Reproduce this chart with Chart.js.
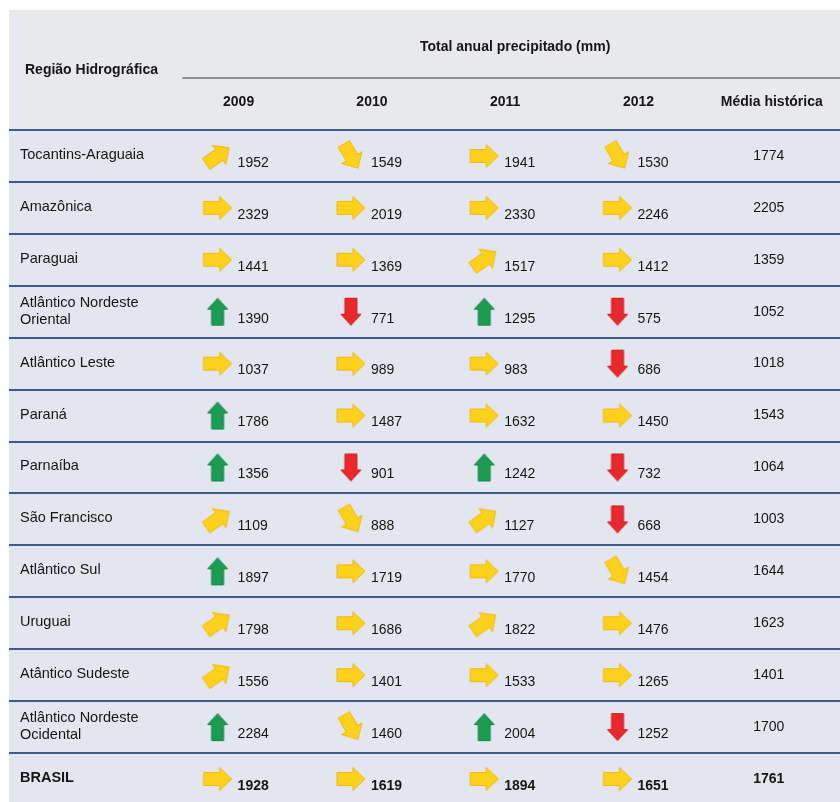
<!DOCTYPE html>
<html>
<head>
<meta charset="utf-8">
<style>
  html, body { margin: 0; padding: 0; background: #fff; overflow: hidden; }
  #chart { display: block; }
</style>
<script src="https://cdn.jsdelivr.net/npm/chart.js@4.4.1/dist/chart.umd.min.js"></script>
</head>
<body>
<canvas id="chart" width="840" height="802"></canvas>
<script>
// Regiões hidrográficas (rows, top to bottom)
const regions = [
  'Tocantins-Araguaia', 'Amazônica', 'Paraguai', 'Atlântico Nordeste\nOriental',
  'Atlântico Leste', 'Paraná', 'Parnaíba', 'São Francisco', 'Atlântico Sul',
  'Uruguai', 'Atântico Sudeste', 'Atlântico Nordeste\nOcidental', 'BRASIL'
];

const years = ['2009', '2010', '2011', '2012'];
const mediaLabel = 'Média histórica';

// Total anual precipitado (mm)
const precip2009 = [1952, 2329, 1441, 1390, 1037, 1786, 1356, 1109, 1897, 1798, 1556, 2284, 1928];
const precip2010 = [1549, 2019, 1369, 771, 989, 1487, 901, 888, 1719, 1686, 1401, 1460, 1619];
const precip2011 = [1941, 2330, 1517, 1295, 983, 1632, 1242, 1127, 1770, 1822, 1533, 2004, 1894];
const precip2012 = [1530, 2246, 1412, 575, 686, 1450, 732, 668, 1454, 1476, 1265, 1252, 1651];
const mediaHistorica = [1774, 2205, 1359, 1052, 1018, 1543, 1064, 1003, 1644, 1623, 1401, 1700, 1761];

// arrow per cell: up, ur (up-right), r (right), dr (down-right), d (down)
const trend2009 = ['ur', 'r', 'r', 'up', 'r', 'up', 'up', 'ur', 'up', 'ur', 'ur', 'up', 'r'];
const trend2010 = ['dr', 'r', 'r', 'd', 'r', 'r', 'd', 'dr', 'r', 'r', 'r', 'dr', 'r'];
const trend2011 = ['r', 'r', 'ur', 'up', 'r', 'r', 'up', 'ur', 'r', 'ur', 'r', 'up', 'r'];
const trend2012 = ['dr', 'r', 'r', 'd', 'd', 'r', 'd', 'd', 'dr', 'r', 'r', 'd', 'r'];

const yearValues = [precip2009, precip2010, precip2011, precip2012];
const yearTrends = [trend2009, trend2010, trend2011, trend2012];

const FONT = '"Liberation Sans", Arial, Helvetica, sans-serif';
const TEXT = '#161616';

// arrow icons, drawn off-centre so the point sits in the middle of the cell
const arrowCache = {};
function makeArrow(kind) {
  if (arrowCache[kind]) return arrowCache[kind];
  const c = document.createElement('canvas');
  c.width = 80; c.height = 44;
  const g = c.getContext('2d');
  g.translate(40 - 18, 22);
  let len, headLen, headHalf, shaftHalf, fill, stroke, angle;
  if (kind === 'up' || kind === 'd') {
    len = 27; headLen = 11; headHalf = 10; shaftHalf = 6;
    fill = kind === 'up' ? '#1c9b52' : '#e8282b';
    stroke = kind === 'up' ? '#15894a' : '#d01f22';
    angle = kind === 'up' ? -90 : 90;
  } else {
    len = 28; headLen = 12; headHalf = 11.5; shaftHalf = 6.5;
    fill = '#fdd11c'; stroke = '#f2bb0e';
    angle = { ur: -35, r: 0, dr: 60 }[kind];
  }
  g.rotate(angle * Math.PI / 180);
  const x0 = -len / 2, x1 = len / 2 - headLen, x2 = len / 2;
  g.beginPath();
  g.moveTo(x0, -shaftHalf);
  g.lineTo(x1, -shaftHalf);
  g.lineTo(x1, -headHalf);
  g.lineTo(x2, 0);
  g.lineTo(x1, headHalf);
  g.lineTo(x1, shaftHalf);
  g.lineTo(x0, shaftHalf);
  g.closePath();
  g.fillStyle = fill;
  g.fill();
  g.lineWidth = 1;
  g.strokeStyle = stroke;
  g.stroke();
  arrowCache[kind] = c;
  return c;
}

// backgrounds, header texts and row separators
const tablePlugin = {
  id: 'tableLayout',
  beforeDraw(chart) {
    const { ctx, chartArea } = chart;
    ctx.save();
    ctx.fillStyle = '#ffffff';
    ctx.fillRect(0, 0, chart.width, chart.height);
    ctx.fillStyle = '#e8e9ec';
    ctx.fillRect(chartArea.left, 10, chartArea.right - chartArea.left, chartArea.top - 10);
    ctx.fillStyle = '#e3e6ee';
    ctx.fillRect(chartArea.left, chartArea.top, chartArea.right - chartArea.left, chartArea.bottom - chartArea.top);
    ctx.restore();
  },
  afterDraw(chart) {
    const { ctx, chartArea, scales } = chart;
    const xs = scales.x, ys = scales.y;
    ctx.save();
    // row separators
    ctx.strokeStyle = '#3e5b8c';
    ctx.lineWidth = 2;
    regions.forEach((r, i) => {
      const y = Math.round(ys.getPixelForValue(i - 0.5));
      ctx.beginPath();
      ctx.moveTo(chartArea.left, y);
      ctx.lineTo(chartArea.right, y);
      ctx.stroke();
    });
    // header
    const lineX0 = xs.getPixelForValue(-0.4);
    ctx.strokeStyle = '#8c8f94';
    ctx.lineWidth = 2;
    ctx.beginPath();
    ctx.moveTo(lineX0, 78);
    ctx.lineTo(chartArea.right, 78);
    ctx.stroke();

    ctx.fillStyle = TEXT;
    ctx.textBaseline = 'middle';
    ctx.font = 'bold 14px ' + FONT;
    ctx.textAlign = 'left';
    ctx.fillText('Região Hidrográfica', 25, 70);
    ctx.textAlign = 'center';
    ctx.fillText('Total anual precipitado (mm)', (lineX0 + chartArea.right) / 2 + 4, 47);
    years.concat([mediaLabel]).forEach((t, i) => {
      ctx.fillText(t, xs.getPixelForValue(i) + 3, 102);
    });

    // region names
    ctx.textAlign = 'left';
    regions.forEach((r, i) => {
      const y = ys.getPixelForValue(i);
      ctx.font = (i === regions.length - 1 ? 'bold ' : '') + '14.5px ' + FONT;
      const lines = r.split('\n');
      lines.forEach((ln, k) => {
        const off = lines.length > 1 ? (k === 0 ? -9 : 8) : -1;
        ctx.fillText(ln, 20, y + off);
      });
    });

    // values next to arrows, and the historical mean
    chart.data.datasets.forEach((ds, d) => {
      const meta = chart.getDatasetMeta(d);
      meta.data.forEach((pt, j) => {
        const last = j === regions.length - 1;
        ctx.font = (last ? 'bold ' : '') + '14px ' + FONT;
        if (d < years.length) {
          ctx.textAlign = 'left';
          ctx.fillText(String(yearValues[d][j]), pt.x + 2, pt.y + 7);
        } else {
          ctx.textAlign = 'center';
          ctx.fillText(String(mediaHistorica[j]), pt.x, pt.y);
        }
      });
    });
    ctx.restore();
  }
};

const datasets = years.map((yr, d) => ({
  label: yr,
  data: yearValues[d].map((v, j) => ({ x: d, y: j })),
  pointStyle: yearTrends[d].map(makeArrow),
  pointRadius: 10
}));
datasets.push({
  label: mediaLabel,
  data: mediaHistorica.map((v, j) => ({ x: years.length, y: j })),
  pointRadius: 0
});

new Chart(document.getElementById('chart'), {
  type: 'scatter',
  data: { datasets },
  options: {
    responsive: false,
    animation: false,
    events: [],
    layout: { autoPadding: false, padding: { left: 9, top: 130, right: 0, bottom: 0 } },
    plugins: { legend: { display: false }, tooltip: { enabled: false } },
    scales: {
      x: { type: 'linear', display: false, min: -1.70, max: 4.534 },
      y: { type: 'linear', display: false, reverse: true, min: -0.5, max: 12.443 }
    }
  },
  plugins: [tablePlugin]
});
</script>
</body>
</html>
